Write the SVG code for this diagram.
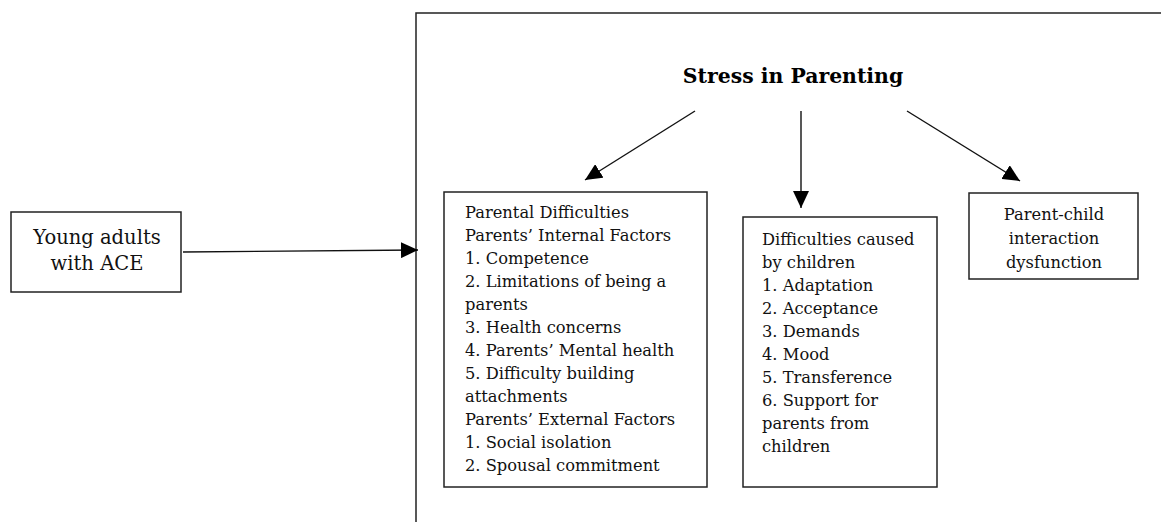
<svg xmlns="http://www.w3.org/2000/svg" width="1161" height="522" viewBox="0 0 1161 522">
<style>
.box{fill:#fff;stroke:#222;stroke-width:1.5}
.t{font-family:"DejaVu Serif","Liberation Serif",serif;font-size:16.3px;fill:#111}
.c{text-anchor:middle}
.title{font-family:"DejaVu Serif","Liberation Serif",serif;font-size:20.4px;font-weight:bold;fill:#000;text-anchor:middle}
.ln{stroke:#111;stroke-width:1.4;fill:none}
</style>
<defs>
<marker id="ah" markerUnits="userSpaceOnUse" markerWidth="18" markerHeight="16" refX="17" refY="8" orient="auto">
<path d="M0,0 L17,8 L0,16 Z" fill="#000"/>
</marker>
</defs>
<rect width="1161" height="522" fill="#fff"/>
<g id="frame"><rect x="416" y="13" width="800" height="560" fill="none" stroke="#222" stroke-width="1.5"/></g>
<g id="young">
<rect class="box" x="11" y="212" width="170" height="80"/>
<text class="t c" x="97" y="244" style="font-size:19.5px">Young adults</text>
<text class="t c" x="97" y="270" style="font-size:19.5px">with ACE</text>
</g>
<g id="title"><text class="title" x="793" y="83">Stress in Parenting</text></g>
<g id="parental">
<rect class="box" x="444" y="192" width="263" height="295"/>
<text class="t"><tspan x="465" y="218">Parental Difficulties</tspan><tspan x="465" y="241">Parents’ Internal Factors</tspan><tspan x="465" y="264">1. Competence</tspan><tspan x="465" y="287">2. Limitations of being a</tspan><tspan x="465" y="310">parents</tspan><tspan x="465" y="333">3. Health concerns</tspan><tspan x="465" y="356">4. Parents’ Mental health</tspan><tspan x="465" y="379">5. Difficulty building</tspan><tspan x="465" y="402">attachments</tspan><tspan x="465" y="425">Parents’ External Factors</tspan><tspan x="465" y="448">1. Social isolation</tspan><tspan x="465" y="471">2. Spousal commitment</tspan></text>
</g>
<g id="children">
<rect class="box" x="743" y="217" width="194" height="270"/>
<text class="t"><tspan x="762" y="245">Difficulties caused</tspan><tspan x="762" y="268">by children</tspan><tspan x="762" y="291">1. Adaptation</tspan><tspan x="762" y="314">2. Acceptance</tspan><tspan x="762" y="337">3. Demands</tspan><tspan x="762" y="360">4. Mood</tspan><tspan x="762" y="383">5. Transference</tspan><tspan x="762" y="406">6. Support for</tspan><tspan x="762" y="429">parents from</tspan><tspan x="762" y="452">children</tspan></text>
</g>
<g id="interaction">
<rect class="box" x="969" y="193" width="169" height="86"/>
<text class="t c"><tspan x="1054" y="220">Parent-child</tspan><tspan x="1054" y="244">interaction</tspan><tspan x="1054" y="268">dysfunction</tspan></text>
</g>
<g id="connectors">
<line class="ln" x1="183" y1="252" x2="418" y2="250" marker-end="url(#ah)"/>
<line class="ln" x1="695" y1="111" x2="585" y2="180" marker-end="url(#ah)"/>
<line class="ln" x1="801" y1="111" x2="801" y2="208" marker-end="url(#ah)"/>
<line class="ln" x1="907" y1="111" x2="1020" y2="181" marker-end="url(#ah)"/>
</g>
</svg>
